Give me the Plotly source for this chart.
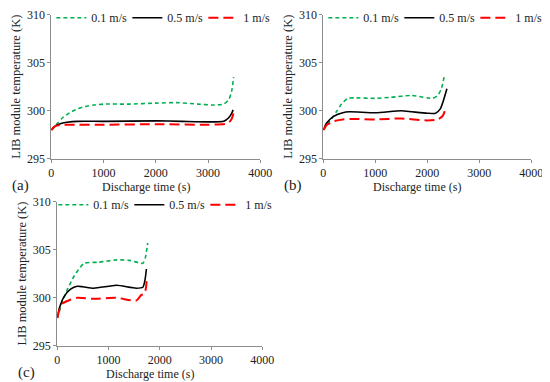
import plotly.graph_objects as go

# ---------------- data ----------------
# Panel (a)
t_a_g = [0, 100, 200, 350, 500, 650, 800, 1000, 1500, 2000, 2400, 2800, 3100, 3300, 3400, 3450, 3490]
T_a_g = [298.0, 298.6, 299.2, 299.8, 300.2, 300.45, 300.6, 300.7, 300.7, 300.8, 300.85, 300.7, 300.6, 300.7, 301.2, 302.0, 303.5]
t_a_k = [0, 50, 100, 200, 300, 500, 1000, 2000, 2500, 3000, 3300, 3400, 3450, 3480]
T_a_k = [298.0, 298.3, 298.5, 298.7, 298.8, 298.9, 298.9, 298.95, 298.9, 298.85, 298.9, 299.3, 299.7, 300.1]
t_a_r = [0, 50, 100, 200, 400, 1000, 2000, 3000, 3350, 3420, 3470, 3500]
T_a_r = [298.0, 298.3, 298.45, 298.55, 298.55, 298.55, 298.6, 298.55, 298.65, 298.9, 299.4, 300.2]

# Panel (b)
t_b_g = [0, 100, 250, 350, 470, 600, 1000, 1300, 1700, 2000, 2100, 2200, 2270, 2330]
T_b_g = [298.0, 298.7, 299.9, 300.7, 301.3, 301.35, 301.3, 301.4, 301.6, 301.35, 301.3, 301.6, 302.3, 303.7]
t_b_k = [0, 60, 190, 375, 500, 1000, 1500, 1700, 2000, 2160, 2250, 2300, 2377]
T_b_k = [298.0, 298.7, 299.4, 299.8, 299.9, 299.8, 300.0, 299.9, 299.75, 299.75, 300.2, 300.9, 302.3]
t_b_r = [0, 60, 190, 375, 600, 1000, 1500, 2000, 2200, 2300, 2360]
T_b_r = [298.0, 298.5, 298.9, 299.1, 299.15, 299.1, 299.2, 299.0, 299.1, 299.5, 300.4]

# Panel (c)
t_c_g = [0, 100, 205, 333, 524, 800, 1160, 1410, 1670, 1720, 1765]
T_c_g = [297.9, 299.6, 300.95, 302.3, 303.6, 303.7, 303.95, 303.9, 303.6, 304.2, 305.7]
t_c_k = [0, 40, 130, 260, 390, 500, 710, 1000, 1160, 1540, 1670, 1710, 1740]
T_c_k = [297.9, 298.9, 300.1, 300.9, 301.2, 301.15, 301.0, 301.2, 301.3, 301.0, 301.1, 301.8, 303.0]
t_c_r = [0, 50, 100, 235, 390, 700, 1160, 1540, 1640, 1700, 1735, 1745]
T_c_r = [297.9, 298.9, 299.4, 299.75, 300.0, 299.9, 300.0, 299.7, 300.3, 300.4, 301.2, 302.1]

series_names = ["0.1 m/s", "0.5 m/s", "1 m/s"]
x_ticks = [0, 1000, 2000, 3000, 4000]
y_ticks = [295, 300, 305, 310]
panel_labels = ["(a)", "(b)", "(c)"]
x_title = "Discharge time (s)"
y_title = "LIB module temperature (K)"

panels = [
    [(t_a_g, T_a_g), (t_a_k, T_a_k), (t_a_r, T_a_r)],
    [(t_b_g, T_b_g), (t_b_k, T_b_k), (t_b_r, T_b_r)],
    [(t_c_g, T_c_g), (t_c_k, T_c_k), (t_c_r, T_c_r)],
]

FONT = "Liberation Serif"
TXT = "#222222"
styles = [
    dict(color="#00b050", width=1.6, dash="4px,3px"),
    dict(color="#000000", width=1.6, dash="solid"),
    dict(color="#ff0000", width=2.0, dash="10px,5px"),
]

# The page body keeps an 8px margin, so the figure is sized to fit inside
# the 550x382 window and the reference layout is mapped onto it proportionally.
REF_W, REF_H = 550, 382
W, H = REF_W - 8, REF_H - 8


def px(xs):
    return min(1.0, max(0.0, xs / REF_W))


def py(ys):
    return min(1.0, max(0.0, 1 - ys / REF_H))


# plot areas in reference pixels (left, right, top, bottom)
areas = [(44, 256, 7, 154), (320, 531, 7, 154), (50, 258, 198, 345)]
legend_left = [44, 320, 46]

fig = go.Figure()
legend_keys = ["legend", "legend2", "legend3"]
for i, ser in enumerate(panels):
    xa = "x" if i == 0 else f"x{i+1}"
    ya = "y" if i == 0 else f"y{i+1}"
    for (t, T), name, st in zip(ser, series_names, styles):
        fig.add_trace(go.Scatter(
            x=t, y=T, mode="lines", name=name, xaxis=xa, yaxis=ya,
            line=dict(color=st["color"], width=st["width"], dash=st["dash"],
                      shape="spline", smoothing=0.6),
            legend=legend_keys[i], cliponaxis=False,
        ))

axis_common = dict(
    showgrid=False, zeroline=False, showline=True, linecolor="#8c8c8c", linewidth=1,
    ticks="outside", ticklen=3, tickcolor="#8c8c8c",
    tickfont=dict(family=FONT, size=12, color=TXT), automargin=False,
)

layout = dict(
    width=W, height=H, margin=dict(l=0, r=0, t=0, b=0, autoexpand=False),
    paper_bgcolor="white", plot_bgcolor="white",
    font=dict(family=FONT, size=12, color=TXT),
)
annotations = []
for i, (l, r, t, b) in enumerate(areas):
    sx = "" if i == 0 else str(i + 1)
    layout[f"xaxis{sx}"] = dict(
        axis_common, domain=[px(l), px(r)], range=[0, 4000], tickvals=x_ticks,
        anchor=f"y{sx}",
    )
    layout[f"yaxis{sx}"] = dict(
        axis_common, domain=[py(b), py(t)], range=[295, 310], tickvals=y_ticks,
        anchor=f"x{sx}",
    )
    layout[legend_keys[i]] = dict(
        orientation="h", x=px(legend_left[i]), xanchor="left",
        y=py(t + 3), yanchor="middle",
        bgcolor="rgba(0,0,0,0)", font=dict(family=FONT, size=12, color=TXT),
        entrywidth=31, entrywidthmode="pixels", itemwidth=30, tracegroupgap=0,
        xref="paper", yref="paper",
    )
    annotations.append(dict(
        text=x_title, xref="paper", yref="paper",
        x=px((l + r) / 2 - 10), y=py(b + 29), xanchor="center", yanchor="middle",
        showarrow=False, font=dict(family=FONT, size=12, color=TXT),
    ))
    annotations.append(dict(
        text=y_title, xref="paper", yref="paper", textangle=-90,
        x=px(l - 36), y=py((t + b) / 2), xanchor="center", yanchor="middle",
        showarrow=False, font=dict(family=FONT, size=12.5, color=TXT),
    ))
    annotations.append(dict(
        text=panel_labels[i], xref="paper", yref="paper",
        x=px(l - 42), y=py(b + 27), xanchor="left", yanchor="middle",
        showarrow=False, font=dict(family=FONT, size=15, color=TXT),
    ))
layout["annotations"] = annotations
fig.update_layout(**layout)
fig.write_html("out.html")
